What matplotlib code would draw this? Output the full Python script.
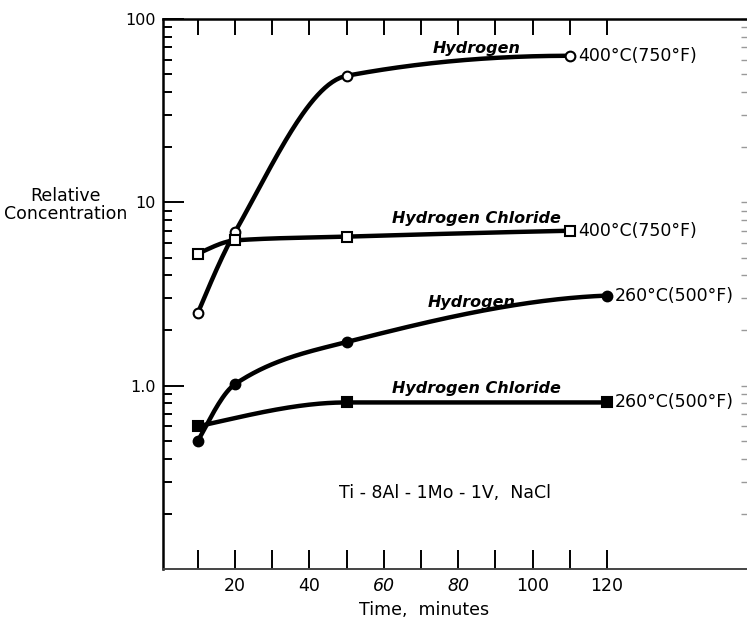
import numpy as np
import matplotlib.pyplot as plt
from matplotlib.ticker import FixedLocator, FixedFormatter, NullFormatter

# Data (time in minutes, relative concentration)
h2_400_t = [10, 20, 50, 110]
h2_400_c = [2.5, 6.9, 49.0, 63.0]

hcl_400_t = [10, 20, 50, 110]
hcl_400_c = [5.25, 6.2, 6.5, 7.0]

h2_260_t = [10, 20, 50, 120]
h2_260_c = [0.5, 1.02, 1.73, 3.1]

hcl_260_t = [10, 50, 120]
hcl_260_c = [0.6, 0.81, 0.81]

x_ticks = [10, 20, 30, 40, 50, 60, 70, 80, 90, 100, 110, 120]
x_labels = ['', '20', '', '40', '', '60', '', '80', '', '100', '', '120']
y_ticks = [1, 10, 100]
y_labels = ['1.0', '10', '100']
y_minor = [k * 10.0**e for e in (-1, 0, 1) for k in range(2, 10)]


def smooth_curve(x, y, n=200):
    """Monotone cubic (PCHIP) through the points, done in log space."""
    x = np.asarray(x, float)
    y = np.log10(np.asarray(y, float))
    h = np.diff(x)
    d = np.diff(y) / h
    m = np.zeros(len(x))
    for k in range(1, len(x) - 1):
        if d[k - 1] * d[k] > 0:
            w1 = 2 * h[k] + h[k - 1]
            w2 = h[k] + 2 * h[k - 1]
            m[k] = (w1 + w2) / (w1 / d[k - 1] + w2 / d[k])
    if len(x) > 2:
        m[0] = ((2 * h[0] + h[1]) * d[0] - h[0] * d[1]) / (h[0] + h[1])
        if np.sign(m[0]) != np.sign(d[0]):
            m[0] = 0
        m[-1] = ((2 * h[-1] + h[-2]) * d[-1] - h[-1] * d[-2]) / (h[-1] + h[-2])
        if np.sign(m[-1]) != np.sign(d[-1]):
            m[-1] = 0
    else:
        m[:] = d[0]
    xs = np.linspace(x[0], x[-1], n)
    idx = np.clip(np.searchsorted(x, xs) - 1, 0, len(x) - 2)
    t = (xs - x[idx]) / h[idx]
    h00 = 2 * t**3 - 3 * t**2 + 1
    h10 = t**3 - 2 * t**2 + t
    h01 = -2 * t**3 + 3 * t**2
    h11 = t**3 - t**2
    ys = h00 * y[idx] + h10 * h[idx] * m[idx] + h01 * y[idx + 1] + h11 * h[idx] * m[idx + 1]
    return xs, 10 ** ys


plt.rcParams['font.family'] = 'DejaVu Sans'

fig = plt.figure(figsize=(7.47, 6.19), dpi=100)
ax = fig.add_axes([163 / 747, 1 - 569 / 619, 1 - 163 / 747, (569 - 19) / 619])

ax.set_yscale('log')
ax.set_xlim(0.6, 157.7)
ax.set_ylim(0.1, 100)

lw = 3.2
series = [
    (h2_400_t, h2_400_c, 'o', 'white'),
    (hcl_400_t, hcl_400_c, 's', 'white'),
    (h2_260_t, h2_260_c, 'o', 'black'),
    (hcl_260_t, hcl_260_c, 's', 'black'),
]
for t, c, mk, fc in series:
    xs, ys = smooth_curve(t, c)
    ax.plot(xs, ys, color='black', lw=lw, solid_capstyle='round', zorder=2)
    ax.plot(t, c, linestyle='none', marker=mk, ms=7, mfc=fc, mec='black',
            mew=1.5, zorder=3)

# curve names
name_kw = dict(fontsize=11.5, fontweight='bold', style='italic', ha='center', va='center')
ax.text(85, 69, 'Hydrogen', **name_kw)
ax.text(85, 8.2, 'Hydrogen Chloride', **name_kw)
ax.text(83.5, 2.85, 'Hydrogen', **name_kw)
ax.text(85, 0.97, 'Hydrogen Chloride', **name_kw)

# temperature labels at curve ends
temp_kw = dict(fontsize=12.5, ha='left', va='center', textcoords='offset points',
               xytext=(6, 0))
ax.annotate('400°C(750°F)', (h2_400_t[-1], h2_400_c[-1]), **temp_kw)
ax.annotate('400°C(750°F)', (hcl_400_t[-1], hcl_400_c[-1]), **temp_kw)
ax.annotate('260°C(500°F)', (h2_260_t[-1], h2_260_c[-1]), **temp_kw)
ax.annotate('260°C(500°F)', (hcl_260_t[-1], hcl_260_c[-1]), **temp_kw)

ax.text(76.5, 0.26, 'Ti - 8Al - 1Mo - 1V,  NaCl', fontsize=12.5, ha='center', va='center')

# axes styling
ax.xaxis.set_major_locator(FixedLocator(x_ticks))
ax.xaxis.set_major_formatter(FixedFormatter(x_labels))
ax.yaxis.set_major_locator(FixedLocator(y_ticks))
ax.yaxis.set_major_formatter(FixedFormatter(y_labels))
ax.yaxis.set_minor_locator(FixedLocator(y_minor))
ax.yaxis.set_minor_formatter(NullFormatter())

ax.tick_params(axis='x', which='major', direction='in', length=14, width=1.4,
               labelsize=12.5, pad=6, bottom=True, top=False)
ax.tick_params(axis='y', which='major', direction='in', length=15, width=1.4,
               labelsize=11.5, pad=5, left=True, right=False)
ax.tick_params(axis='y', which='minor', direction='in', length=6.5, width=1.4,
               left=True, right=False, colors='black')
for lab in ax.get_xticklabels():
    if lab.get_text() in ('60', '80'):
        lab.set_style('italic')

# top ticks are a bit shorter than the bottom ones
top = ax.secondary_xaxis('top')
top.xaxis.set_major_locator(FixedLocator(x_ticks))
top.tick_params(direction='in', length=11.5, width=1.4, labeltop=False)
top.spines['top'].set_visible(False)

# faint ticks on the right edge
sec_r = ax.secondary_yaxis('right')
sec_r.yaxis.set_major_locator(FixedLocator(y_ticks))
sec_r.yaxis.set_minor_locator(FixedLocator(y_minor))
sec_r.tick_params(which='both', direction='in', length=4, width=1.0,
                  colors='#999999', labelright=False)
sec_r.spines['right'].set_visible(False)

for side in ('left', 'top'):
    ax.spines[side].set_linewidth(1.8)
ax.spines['bottom'].set_linewidth(1.4)
ax.spines['bottom'].set_color('#444444')
ax.spines['right'].set_color('#bbbbbb')
ax.spines['right'].set_linewidth(0.6)

fig.text(66 / 747, 1 - 205 / 619, 'Relative\nConcentration', fontsize=12.5,
         ha='center', va='center', linespacing=1.05)
fig.text(424.5 / 747, 1 - 610 / 619, 'Time,  minutes', fontsize=12.5,
         ha='center', va='center')

fig.savefig('out.png', dpi=100)
